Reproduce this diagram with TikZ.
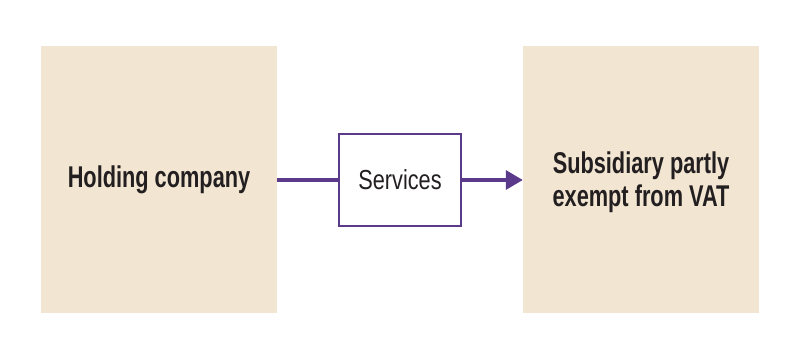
\documentclass[tikz,border=0pt]{standalone}
\usepackage{fontspec}
\setmainfont{Liberation Sans}[FakeStretch=0.725]
\newfontfamily\svcfont{Liberation Sans}[FakeStretch=0.79]
\usetikzlibrary{arrows.meta}
\definecolor{beige}{HTML}{F2E6D2}
\definecolor{purp}{HTML}{5B3A8C}
\definecolor{txt}{HTML}{231F20}
\begin{document}
\begin{tikzpicture}[x=1pt,y=-1pt,
  bigbox/.style={fill=beige,draw=none,minimum width=236pt,minimum height=267pt,inner sep=0pt,
    text=txt,font=\fontsize{30}{33}\selectfont\bfseries,align=center},
  svcbox/.style={draw=purp,line width=2pt,fill=white,minimum width=122pt,minimum height=92pt,
    inner sep=0pt,text=txt,font=\svcfont\fontsize{27.5}{30}\selectfont},
  conn/.style={draw=purp,line width=3.4pt}]
\useasboundingbox (0,0) rectangle (800,359);
\node[bigbox] (hold) at (159,179.5) {Holding company};
\node[bigbox,text depth=0pt] (sub) at (641,179.5) {Subsidiary partly\\exempt from VAT};
\node[svcbox] (svc) at (400,180) {Services};
\draw[conn] (hold.east |- svc.west) -- (svc.west);
\draw[conn,-{Triangle[length=17pt,width=19pt]}] (svc.east) -- (sub.west |- svc.east);
\end{tikzpicture}
\end{document}
